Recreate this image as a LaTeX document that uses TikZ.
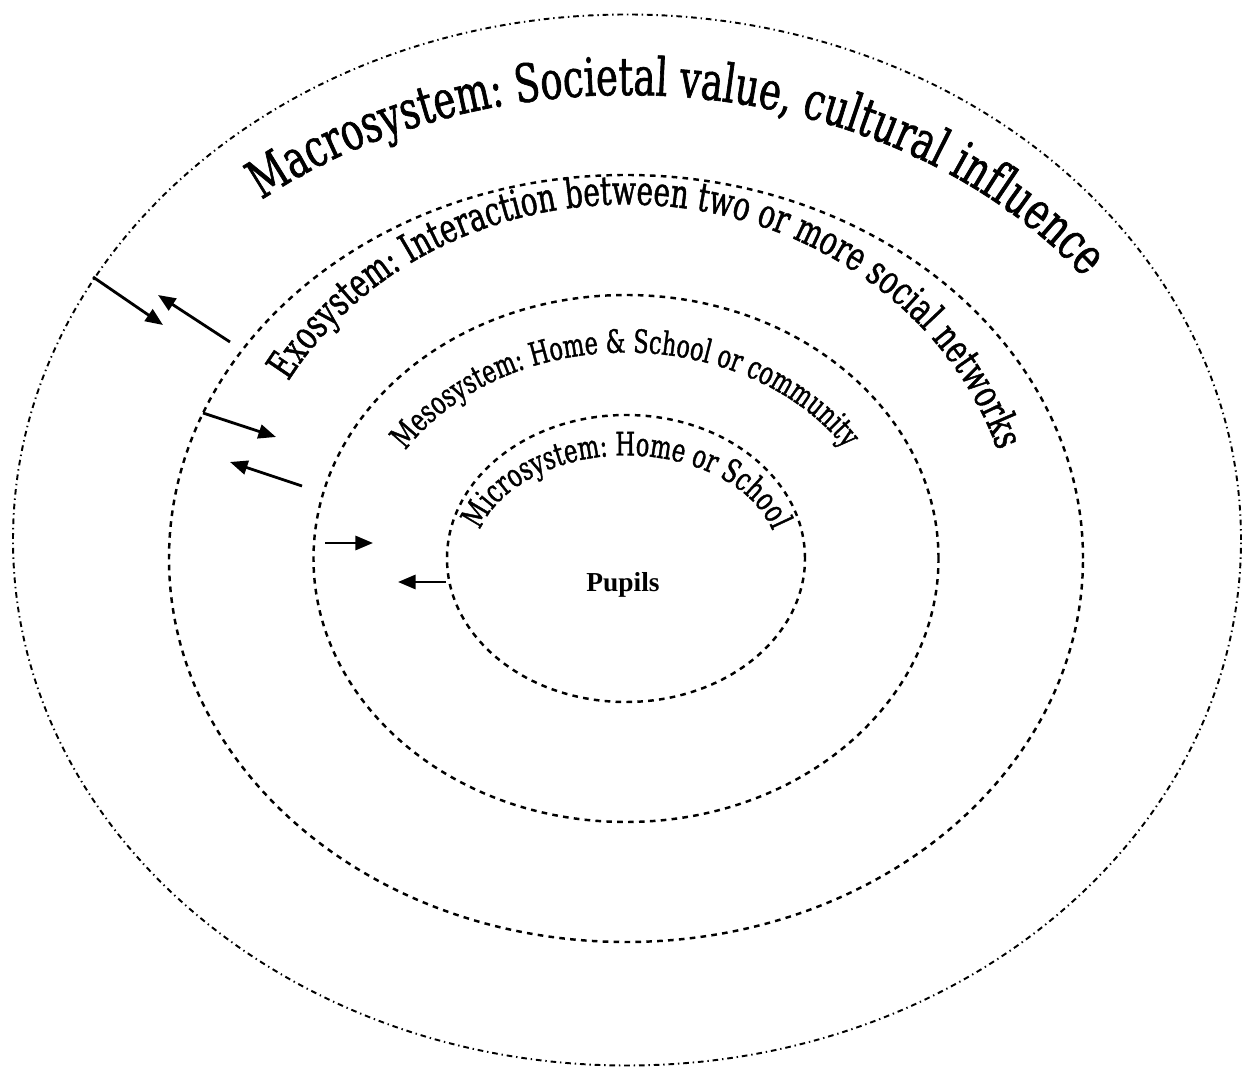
\documentclass[tikz,border=0pt]{standalone}
\usepackage{fontspec}
\setmainfont{Liberation Serif}
\newfontfamily\ringfont[FakeStretch=0.7,FakeBold=1.2]{DejaVu Serif}
\newcommand\macrosize{\ringfont\fontsize{15}{18}\selectfont}
\newcommand\exosize{\ringfont\fontsize{11.4}{14}\selectfont}
\newcommand\mesosize{\ringfont\fontsize{9.1}{11}\selectfont}
\newcommand\microsize{\ringfont\fontsize{9.2}{11}\selectfont}
\usetikzlibrary{arrows.meta,decorations.text}

\tikzset{
  outerring/.style={line width=0.55pt, dash pattern=on 1.6pt off 1.1pt on 0.4pt off 1.1pt},
  innerring/.style={line width=0.7pt, dash pattern=on 1.6pt off 1.5pt},
  flow/.style={line width=0.8pt, -{Triangle[length=5pt,width=4pt]}},
}

\begin{document}
\begin{tikzpicture}
  \useasboundingbox (0,0) rectangle (12.53,-10.69);
  % centres of the rings
  \coordinate (outerc) at (6.27,-5.40);
  \coordinate (ctr) at (6.26,-5.585);
  % the four rings
  \draw[outerring] (outerc) ellipse [x radius=6.14, y radius=5.255];
  \draw[innerring] (ctr) ellipse [x radius=4.57, y radius=3.835];
  \draw[innerring] (ctr) ellipse [x radius=3.125, y radius=2.635];
  \draw[innerring] (ctr) ellipse [x radius=1.79, y radius=1.435];
  % ring labels
  \path[decorate, decoration={text along path,
    text={|\macrosize|Macrosystem: Societal value, cultural influence}}]
    (2.616,-2.001) arc[start angle=130.2, end angle=0, x radius=5.66, y radius=4.45];
  \path[decorate, decoration={text along path,
    text={|\exosize|Exosystem: Interaction between two or more social networks}}]
    (2.883,-3.815) arc[start angle=150, end angle=-10, x radius=3.90, y radius=3.54];
  \path[decorate, decoration={text along path,
    text={|\mesosize|Mesosystem: Home {\&} School or community}}]
    (4.054,-4.506) arc[start angle=148.4, end angle=-10, x radius=2.59, y radius=2.06];
  \path[decorate, decoration={text along path,
    text={|\microsize|Microsystem: Home or School}}]
    (4.80,-5.301) arc[start angle=164, end angle=-20, x radius=1.52, y radius=1.03];
  \node[font=\bfseries\fontsize{7.8}{9}\selectfont] (pupils) at (6.23,-5.85) {Pupils};
  % arrows between the rings
  \coordinate (macA) at (0.93,-2.77);
  \coordinate (exoA) at (1.63,-3.25);
  \coordinate (exoB) at (2.30,-3.42);
  \coordinate (macB) at (1.58,-2.95);
  \coordinate (exoC) at (2.03,-4.13);
  \coordinate (mesA) at (2.76,-4.37);
  \coordinate (mesB) at (3.02,-4.86);
  \coordinate (exoD) at (2.30,-4.62);
  \coordinate (mesC) at (3.25,-5.43);
  \coordinate (micA) at (3.73,-5.43);
  \coordinate (micB) at (4.46,-5.82);
  \coordinate (mesD) at (3.98,-5.82);
  \draw[flow] (macA) -- (exoA);
  \draw[flow] (exoB) -- (macB);
  \draw[flow] (exoC) -- (mesA);
  \draw[flow] (mesB) -- (exoD);
  \draw[flow] (mesC) -- (micA);
  \draw[flow] (micB) -- (mesD);
\end{tikzpicture}
\end{document}
